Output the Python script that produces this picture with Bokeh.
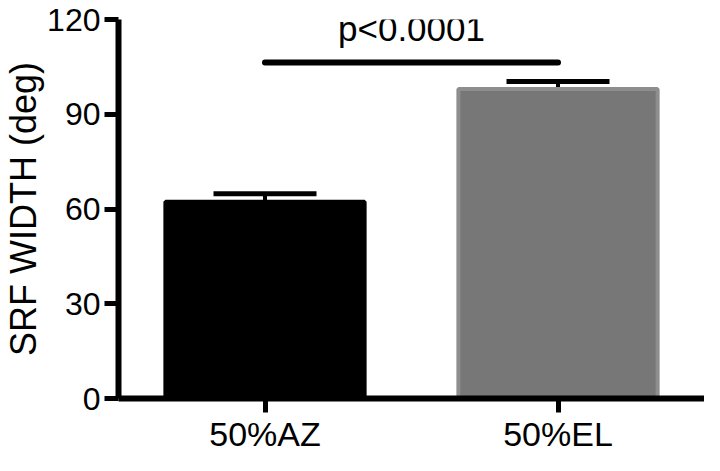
from bokeh.plotting import figure
from bokeh.models import FactorRange, Range1d, ColumnDataSource, Whisker, TeeHead, FixedTicker
from bokeh.transform import dodge
from bokeh.core.properties import value
from bokeh.embed import file_html
from bokeh.resources import INLINE

# ---- data ----
categories = ["50%AZ", "50%EL"]
means = [62.3, 98.0]
sems = [2.5, 2.4]
bar_colors = ["#000000", "#777777"]
bar_lines = ["#000000", "#8e8e8e"]
y_ticks = [0, 30, 60, 90, 120]
sig_y = 106.4
sig_text = "p<0.0001"
sig_text_y = 111.0

FONT = "Liberation Sans"

src = ColumnDataSource(dict(
    x=categories, top=means,
    upper=[m + s for m, s in zip(means, sems)],
    fill=bar_colors, line=bar_lines,
))

p = figure(x_range=FactorRange(factors=categories), y_range=Range1d(0, 120),
           width=704, height=455, output_backend="svg", toolbar_location=None,
           min_border_left=109, min_border_right=0, min_border_top=19, min_border_bottom=50)
p.outline_line_color = None
p.xgrid.grid_line_color = None
p.ygrid.grid_line_color = None

p.vbar(x="x", top="top", width=0.68, bottom=0, source=src,
       fill_color="fill", line_color="line", line_width=4)

w = Whisker(base="x", upper="upper", lower="top", source=src,
            line_color="black", line_width=4,
            upper_head=TeeHead(size=103, line_width=5, line_color="black"),
            lower_head=None)
p.add_layout(w)

# significance line
p.line(x=categories, y=[sig_y, sig_y], line_width=6, line_color="black", line_cap="round")
txt_src = ColumnDataSource(dict(x=[categories[0]], y=[sig_text_y], t=[sig_text]))
p.text(x=dodge("x", 0.5, range=p.x_range), y="y", text="t", source=txt_src,
       text_align="center", text_baseline="bottom", text_font=value(FONT),
       text_font_size="35px", text_color="black")

# y axis
ya = p.yaxis[0]
ya.ticker = FixedTicker(ticks=y_ticks)
ya.axis_label = "SRF WIDTH (deg)"
ya.axis_label_text_font = FONT
ya.axis_label_text_font_size = "36px"
ya.axis_label_text_font_style = "normal"
ya.axis_label_text_color = "black"
ya.axis_label_standoff = 0
ya.major_label_text_font = FONT
ya.major_label_text_font_size = "32px"
ya.major_label_text_color = "black"
ya.major_label_standoff = 4
ya.axis_line_width = 6
ya.axis_line_color = "black"
ya.major_tick_line_width = 5
ya.major_tick_line_color = "black"
ya.major_tick_out = 14
ya.major_tick_in = 0
ya.minor_tick_line_color = None

# x axis
xa = p.xaxis[0]
xa.major_label_text_font = FONT
xa.major_label_text_font_size = "34px"
xa.major_label_text_color = "black"
xa.major_label_standoff = 2
xa.axis_line_width = 6
xa.axis_line_color = "black"
xa.major_tick_line_width = 5
xa.major_tick_line_color = "black"
xa.major_tick_out = 14
xa.major_tick_in = 0
xa.minor_tick_line_color = None

open("out.html", "w").write(file_html(p, INLINE))
